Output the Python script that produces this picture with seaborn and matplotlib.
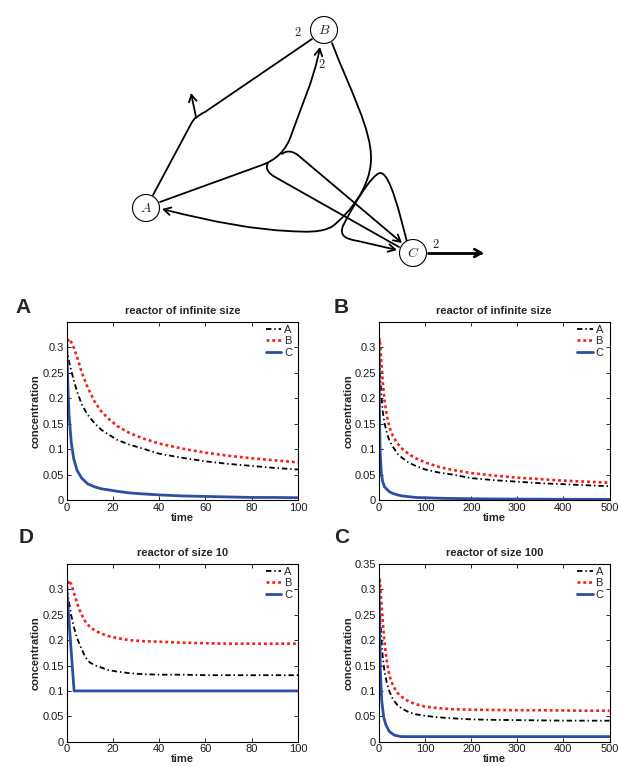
import matplotlib
matplotlib.use("Agg")
import matplotlib.pyplot as plt
import pandas as pd
import seaborn as sns
from matplotlib.path import Path
from matplotlib.patches import Circle, FancyArrowPatch

# ---- values ----
# panel A: reactor of infinite size, time 0-100
t_inf100 = [0, 0.5, 1, 2, 3, 4.5, 6.5, 9, 12, 15, 18, 22, 27, 33, 40, 50, 60, 70, 80, 90, 100]
A_inf100 = [0.300, 0.284, 0.272, 0.254, 0.236, 0.213, 0.188, 0.168, 0.151, 0.138, 0.129,
            0.118, 0.109, 0.101, 0.091, 0.083, 0.076, 0.071, 0.067, 0.063, 0.060]
B_inf100 = [0.300, 0.312, 0.317, 0.310, 0.300, 0.281, 0.251, 0.222, 0.194, 0.174, 0.160,
            0.145, 0.132, 0.121, 0.111, 0.101, 0.093, 0.087, 0.082, 0.078, 0.074]
C_inf100 = [0.300, 0.226, 0.168, 0.112, 0.082, 0.058, 0.043, 0.032, 0.026, 0.022, 0.020,
            0.017, 0.014, 0.012, 0.010, 0.008, 0.007, 0.006, 0.005, 0.005, 0.0045]

# panel B: reactor of infinite size, time 0-500
t_inf500 = [0, 1, 2.5, 5, 8, 12, 17, 23, 30, 40, 50, 65, 80, 100, 130, 160, 200, 250, 300,
            350, 400, 450, 500]
A_inf500 = [0.300, 0.272, 0.245, 0.206, 0.175, 0.151, 0.132, 0.116, 0.105, 0.091, 0.083,
            0.073, 0.067, 0.060, 0.054, 0.050, 0.043, 0.039, 0.036, 0.033, 0.031, 0.029, 0.027]
B_inf500 = [0.300, 0.317, 0.306, 0.274, 0.233, 0.194, 0.166, 0.142, 0.126, 0.111, 0.101,
            0.090, 0.082, 0.074, 0.065, 0.059, 0.053, 0.048, 0.044, 0.041, 0.038, 0.036, 0.034]
C_inf500 = [0.300, 0.168, 0.095, 0.053, 0.036, 0.026, 0.021, 0.016, 0.013, 0.010, 0.008,
            0.0065, 0.005, 0.0045, 0.0035, 0.003, 0.0025, 0.002, 0.0018, 0.0016, 0.0014,
            0.0013, 0.0012]

# panel D: reactor of size 10, time 0-100
t_size10 = [0, 0.8, 2, 3.2, 4.5, 6, 8, 10, 12.5, 15, 18, 22, 27, 33, 40, 50, 60, 70, 80, 90, 100]
A_size10 = [0.300, 0.280, 0.248, 0.224, 0.204, 0.187, 0.167, 0.156, 0.150, 0.146, 0.141,
            0.138, 0.135, 0.133, 0.132, 0.132, 0.131, 0.131, 0.131, 0.131, 0.131]
B_size10 = [0.300, 0.318, 0.310, 0.292, 0.273, 0.254, 0.237, 0.226, 0.218, 0.213, 0.208,
            0.204, 0.200, 0.198, 0.197, 0.195, 0.194, 0.193, 0.193, 0.193, 0.193]
t_size10_C = [0, 3.2, 100]
C_size10 = [0.300, 0.100, 0.100]

# panel C: reactor of size 100, time 0-500
t_size100 = [0, 1, 2.5, 5, 8, 12, 17, 23, 30, 40, 50, 65, 80, 100, 130, 160, 200, 250, 300,
             350, 400, 450, 500]
A_size100 = [0.300, 0.275, 0.247, 0.205, 0.168, 0.137, 0.116, 0.098, 0.084, 0.072, 0.065,
             0.058, 0.054, 0.051, 0.048, 0.046, 0.044, 0.043, 0.0425, 0.042, 0.0415, 0.0414,
             0.0413]
B_size100 = [0.300, 0.322, 0.309, 0.277, 0.237, 0.195, 0.158, 0.129, 0.111, 0.096, 0.088,
             0.079, 0.074, 0.069, 0.066, 0.064, 0.063, 0.0625, 0.062, 0.062, 0.0615, 0.061,
             0.061]
t_size100_C = [0, 1.4, 2.9, 5.8, 10, 15, 22.5, 33, 48, 500]
C_size100 = [0.300, 0.226, 0.141, 0.082, 0.049, 0.033, 0.020, 0.013, 0.010, 0.010]

species = ['A', 'B', 'C']
yticks_short = [0, 0.05, 0.1, 0.15, 0.2, 0.25, 0.3]
yticks_long = [0, 0.05, 0.1, 0.15, 0.2, 0.25, 0.3, 0.35]

sns.set_style("ticks")
plt.rcParams['font.family'] = ['Liberation Sans', 'DejaVu Sans']
plt.rcParams['mathtext.fontset'] = 'cm'

colors = {'A': 'black', 'B': '#ee2222', 'C': '#2f4ea3'}
dashes = {'A': (3, 1.6, 0.8, 1.6), 'B': (1.1, 1.1), 'C': ''}
widths = {'A': 1.3, 'B': 1.9, 'C': 2.0}


def long_frame(t_ab, a, b, t_c, c):
    parts = [pd.DataFrame({'time': t_ab, 'concentration': a, 'species': 'A'}),
             pd.DataFrame({'time': t_ab, 'concentration': b, 'species': 'B'}),
             pd.DataFrame({'time': t_c, 'concentration': c, 'species': 'C'})]
    return pd.concat(parts, ignore_index=True)


def px_rect(left, top, right, bottom):
    return [left / 619, (766 - bottom) / 766, (right - left) / 619, (bottom - top) / 766]


def draw_panel(ax, df, title, tmax, xstep, yticks):
    sns.lineplot(data=df, x='time', y='concentration', hue='species', style='species',
                 size='species', hue_order=species, style_order=species, size_order=species,
                 palette=colors, dashes=dashes, sizes=widths, estimator=None,
                 legend=False, ax=ax)
    ax.set_xlim(0, tmax)
    ax.set_ylim(0, 0.35)
    ax.set_xticks(range(0, tmax + 1, xstep))
    ax.set_yticks(yticks)
    ax.set_yticklabels([f'{v:g}' for v in yticks])
    ax.tick_params(direction='in', top=True, right=True, length=3, width=0.7,
                   labelsize=8, pad=2, labelcolor='#1a1a1a')
    for s in ax.spines.values():
        s.set_visible(True)
        s.set_linewidth(0.8)
        s.set_color('black')
    ax.set_title(title, fontsize=8, fontweight='bold', pad=6)
    ax.set_xlabel('time', fontsize=8, fontweight='bold', labelpad=0)
    ax.set_ylabel('concentration', fontsize=8, fontweight='bold', labelpad=1)
    ax.legend(ax.lines, species, loc='upper right', bbox_to_anchor=(0.975, 0.985),
              frameon=False, fontsize=8, handlelength=1.4, handletextpad=0.25,
              labelspacing=0.15, borderaxespad=0, borderpad=0)


fig = plt.figure(figsize=(6.19, 7.66), dpi=100)

# ---- reaction network diagram ----
net = fig.add_axes([0, 486 / 766, 1, 280 / 766])
net.set_xlim(0, 619)
net.set_ylim(280, 0)
net.axis('off')

M, L, C3, C4 = Path.MOVETO, Path.LINETO, Path.CURVE3, Path.CURVE4


def edge(verts, codes, arrow=True, lw=1.3):
    style = '->,head_length=0.45,head_width=0.25' if arrow else '-'
    net.add_patch(FancyArrowPatch(path=Path(verts, codes), arrowstyle=style,
                                  mutation_scale=11, lw=lw, color='black', zorder=2))


edge([(153, 195), (191, 124), (193, 120), (196, 117), (191, 93)], [M, L, C3, C3, L])
edge([(196, 118), (200, 114), (205, 112), (312, 39)], [M, C3, C3, L], arrow=False)
edge([(160, 202), (262, 165), (275, 160), (286, 152), (292, 133), (298, 115), (314, 80),
      (320, 47)], [M, L, C4, C4, C4, C4, C4, C4])
edge([(282, 154), (287, 150), (293, 151), (299, 156), (402, 243)], [M, C4, C4, C4, L])
edge([(268, 163), (265, 168), (268, 173), (275, 177), (399, 247)], [M, C4, C4, C4, L],
     arrow=False)
edge([(332, 43), (350, 90), (372, 130), (371, 160), (370, 188), (350, 212), (333, 226),
      (322, 233), (305, 232), (288, 231), (240, 229), (162, 209)],
     [M, C4, C4, C4, C4, C4, C4, C4, C4, C4, C3, C3])
edge([(407, 242), (400, 215), (390, 172), (380, 173), (372, 174), (352, 207), (343, 226),
      (339, 236), (346, 239), (358, 241), (397, 250)],
     [M, C4, C4, C4, C4, C4, C4, C4, C4, C4, L])
edge([(428, 253), (484, 253)], [M, L], lw=2.0)

for name, (x, y) in {'A': (146, 208), 'B': (324, 30), 'C': (413, 253)}.items():
    net.add_patch(Circle((x, y), 13.5, fc='white', ec='black', lw=0.8, zorder=3))
    net.text(x, y, f'${name}$', fontsize=10, ha='center', va='center', zorder=4)
for x, y in [(298, 33), (322, 65), (436, 245)]:
    net.text(x, y, '$2$', fontsize=9, ha='center', va='center')

# ---- concentration panels ----
axA = fig.add_axes(px_rect(66.7, 322, 298, 500))
axB = fig.add_axes(px_rect(379, 322, 609.5, 500))
axD = fig.add_axes(px_rect(66.7, 564, 298, 741.7))
axC = fig.add_axes(px_rect(379, 564, 609.5, 741.7))

draw_panel(axA, long_frame(t_inf100, A_inf100, B_inf100, t_inf100, C_inf100),
           'reactor of infinite size', 100, 20, yticks_short)
draw_panel(axB, long_frame(t_inf500, A_inf500, B_inf500, t_inf500, C_inf500),
           'reactor of infinite size', 500, 100, yticks_short)
draw_panel(axD, long_frame(t_size10, A_size10, B_size10, t_size10_C, C_size10),
           'reactor of size 10', 100, 20, yticks_short)
draw_panel(axC, long_frame(t_size100, A_size100, B_size100, t_size100_C, C_size100),
           'reactor of size 100', 500, 100, yticks_long)

for letter, x, y in [('A', 23, 307.5), ('B', 341, 307.5), ('D', 26.5, 537.5), ('C', 341.5, 537.5)]:
    fig.text(x / 619, (766 - y) / 766, letter, fontsize=15, fontweight='bold',
             ha='center', va='center')

fig.savefig('out.png', dpi=100)
